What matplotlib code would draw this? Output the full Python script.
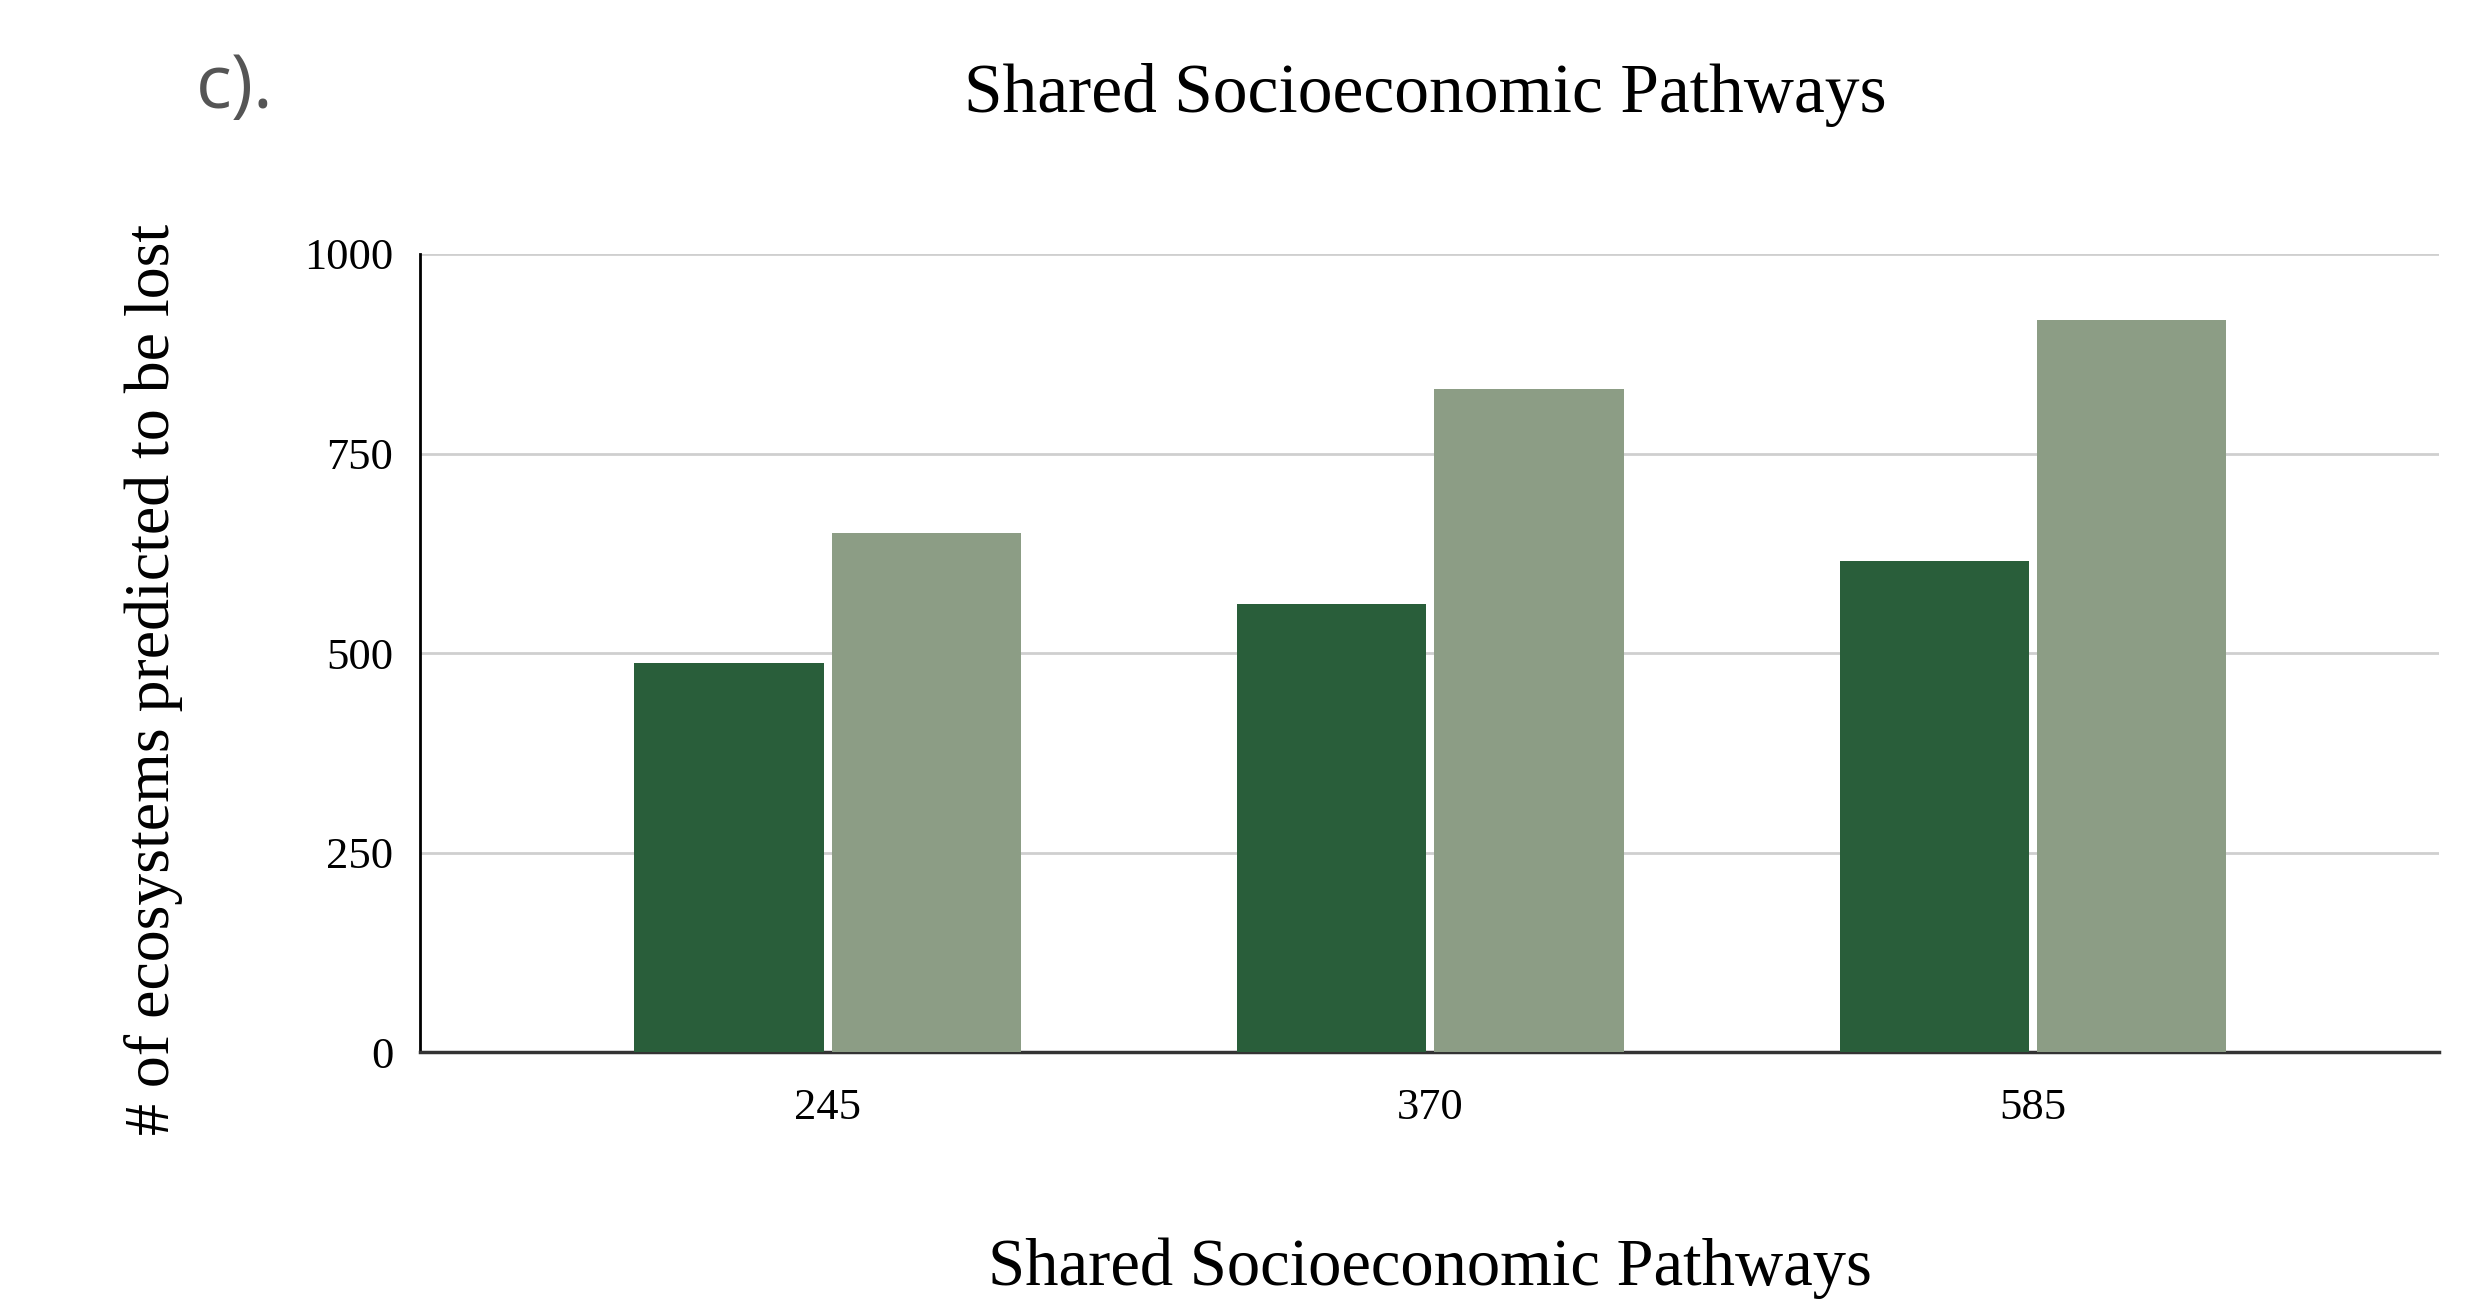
import matplotlib.pyplot as plt
import numpy as np

# scenarios and predicted ecosystem losses (two series per scenario)
ssp = ["245", "370", "585"]
lost_a = [488, 561, 615]
lost_b = [651, 831, 917]

dark = "#295e3a"
light = "#8c9d85"

fig = plt.figure(figsize=(24.74, 13.14), dpi=100)
ax = fig.add_axes([0.1696, 0.1993, 0.8164, 0.6074])

x = np.arange(len(ssp))
w = 0.314
off = 0.1636
ax.bar(x - off, lost_a, width=w, color=dark, zorder=3)
ax.bar(x + off, lost_b, width=w, color=light, zorder=3)

ax.set_xlim(-0.677, 2.674)
ax.set_ylim(0, 1000)
ax.set_yticks([0, 250, 500, 750, 1000])
ax.set_xticks(x)
ax.set_xticklabels(ssp)
ax.grid(axis="y", color="#cfcfcf", lw=2, zorder=0)

for s in ["top", "right"]:
    ax.spines[s].set_visible(False)
ax.spines["left"].set_linewidth(2)
ax.spines["left"].set_color("black")
ax.spines["bottom"].set_linewidth(2.5)
ax.spines["bottom"].set_color("#333333")
ax.tick_params(length=0, labelsize=32)
ax.tick_params(axis="y", pad=19)
ax.tick_params(axis="x", pad=26)
for lab in ax.get_xticklabels() + ax.get_yticklabels():
    lab.set_family("Liberation Serif")

fig.text(0.576, 0.928, "Shared Socioeconomic Pathways", ha="center", va="center",
         fontsize=50, family="Liberation Serif")
fig.text(0.578, 0.035, "Shared Socioeconomic Pathways", ha="center", va="center",
         fontsize=48, family="Liberation Serif")
fig.text(0.062, 0.483, "# of ecosystems predicted to be lost", ha="center", va="center",
         rotation=90, fontsize=46, family="Liberation Serif")
fig.text(0.079, 0.933, "c).", ha="left", va="center", fontsize=54,
         family="Open Sans", color="#555555")

fig.savefig("out.png")
